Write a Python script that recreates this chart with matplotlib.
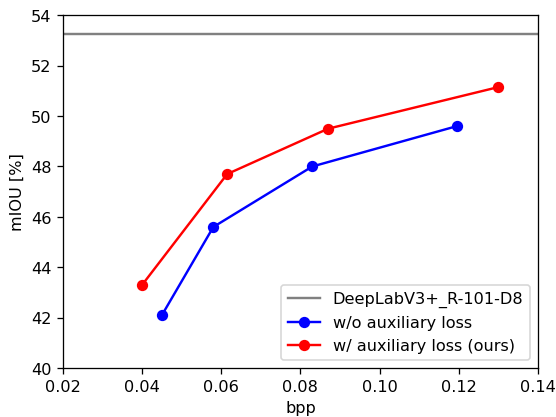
import matplotlib
matplotlib.use('Agg')
import matplotlib.pyplot as plt

baseline_miou = 53.25
bpp_wo = [0.045, 0.058, 0.083, 0.1195]
miou_wo = [42.1, 45.6, 48.0, 49.6]
bpp_w = [0.040, 0.0615, 0.087, 0.130]
miou_w = [43.3, 47.7, 49.5, 51.15]

# 4.8 x 3.6 in at 116 dpi -> 557 x 418 px
fig = plt.figure(figsize=(4.8, 3.6), dpi=116)
ax = fig.add_axes([0.113, 0.117, 0.853, 0.845])

ax.axhline(baseline_miou, color='gray', label='DeepLabV3+_R-101-D8')
ax.plot(bpp_wo, miou_wo, '-o', color='blue', label='w/o auxiliary loss')
ax.plot(bpp_w, miou_w, '-o', color='red', label='w/ auxiliary loss (ours)')

ax.set_xlim(0.02, 0.14)
ax.set_ylim(40, 54)
ax.set_xlabel('bpp')
ax.set_ylabel('mIOU [%]')
ax.legend(loc='lower right')

fig.savefig('out.png', dpi=116)
